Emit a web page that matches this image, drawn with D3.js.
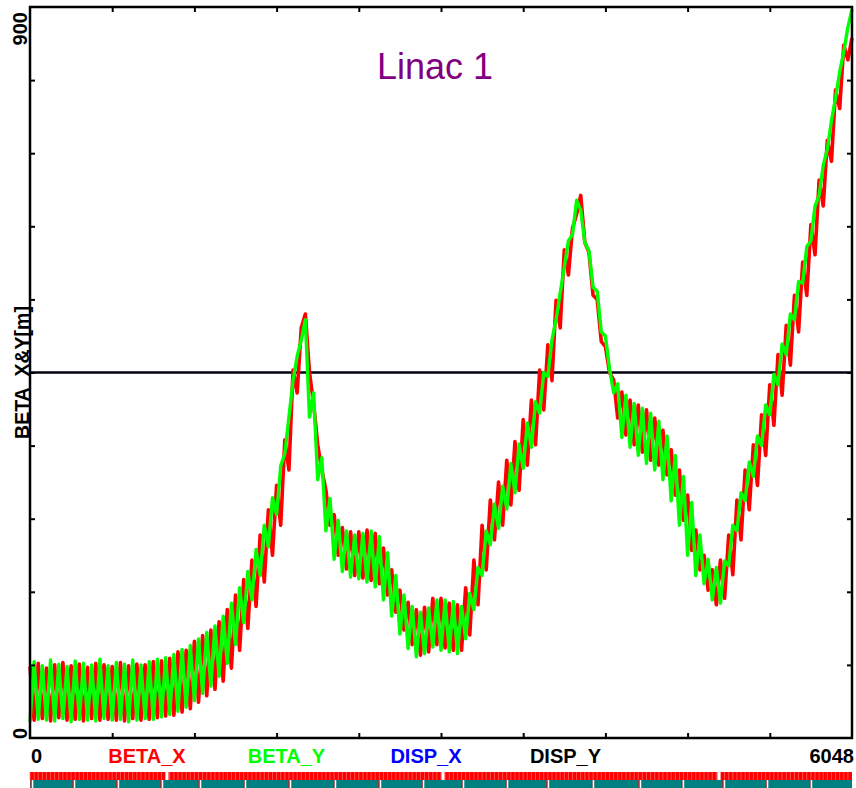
<!DOCTYPE html>
<html>
<head>
<meta charset="utf-8">
<script src="https://cdn.jsdelivr.net/npm/d3@7"></script>
<style>
  body { margin: 0; background: #fff; }
  text { font-family: "Liberation Sans", Arial, sans-serif; }
</style>
</head>
<body>
<svg id="chart" width="856" height="788"></svg>
<script>
// ring length [m] and beta range [m]
const sLength = 6048;
const betaTop = 900;
const refLevel = 450;
const cellCount = 100;

// beta_x at the F quad and at the D quad of every cell
const betaXF = [88,92,86,90,93,89,91,87,92,90,88,93,89,91,90,94,95,
  98,106,108,119,126,133,143,158,176,195,219,250,281,311,367,453,
  505,
  450,361,305,275,259,254,254,256,252,234,207,182,167,158,161,172,
  172,166,164,185,219,262,293,315,342,365,392,416,453,484,539,601,628,
  668,598,540,482,441,426,416,410,404,394,379,355,330,299,256,225,207,
  219,250,293,330,361,398,435,472,508,545,586,632,687,736,798,853];
const betaXD = [22,24,21,25,22,23,21,24,22,23,22,21,24,22,23,25,27,
  28,32,36,44,52,60,70,86,108,135,162,192,225,262,330,425,
  522,
  412,330,262,225,208,200,197,194,190,176,155,133,115,102,106,115,
  111,108,108,127,164,207,244,262,287,305,336,361,404,440,505,570,645,
  610,545,488,450,394,373,361,352,342,336,324,299,268,231,207,182,164,
  172,201,244,281,311,348,385,422,459,500,545,595,655,710,775,835];
const betaXEnd = 862;

// beta_y at the F quad and at the D quad of every cell
const betaYF = [20,23,22,21,24,20,23,22,21,24,22,23,20,22,24,23,26,
  29,33,38,46,55,64,76,92,115,142,170,200,235,275,350,440,
  490,
  395,318,255,220,205,198,196,192,186,170,150,128,110,100,104,112,
  108,106,104,122,158,200,238,258,282,302,332,358,400,445,515,580,620,
  650,600,550,495,425,370,358,348,338,330,318,292,262,225,200,190,170,
  166,212,255,292,322,360,398,435,472,515,560,612,668,725,788,845];
const betaYD = [94,89,96,91,88,95,92,90,97,89,93,91,96,90,94,97,99,
  103,109,114,122,130,138,150,166,185,205,232,262,296,335,395,470,
  515,
  425,345,295,268,255,250,252,255,248,228,200,176,162,155,160,170,
  170,168,162,178,210,255,288,310,338,362,388,414,450,490,548,612,662,
  610,555,500,455,436,422,412,406,400,390,372,348,322,290,250,220,210,
  218,262,302,340,372,410,448,485,522,562,605,655,705,760,820,875];
const betaYEnd = 897;

// lattice bar: gaps in the red bar and section marks in the teal bar [m]
const gapS = [1008, 3039, 5069];
const sectionS = [15, 324, 647, 971, 1251, 1582, 1913, 2244, 2575, 2892, 3186,
  3510, 3811, 4142, 4488, 4804, 5106, 5423, 5746];

const legendNames = ["BETA_X", "BETA_Y", "DISP_X", "DISP_Y"];
const legendColors = ["#ff0000", "#00ff00", "#0000ff", "#000000"];
const xEndLabels = ["0", "6048"];
const yEndLabels = ["0", "900"];
const title = "Linac 1";
const yTitle = "BETA\u00a0 X&Y[m]";

const svg = d3.select("#chart");

let x = d3.scaleLinear().domain([0, sLength]).range([30, 852]);
let y = d3.scaleLinear().domain([0, betaTop]).range([738, 7]);

let cellLen = sLength / cellCount;

function buildPoints(atF, atD, endVal) {
  let pts = [];
  for (let i = 0; i < cellCount; i++) {
    pts.push([i * cellLen, atF[i]]);
    pts.push([(i + 0.5) * cellLen, atD[i]]);
  }
  pts.push([sLength, endVal]);
  return pts;
}

let line = d3.line()
  .x(d => x(d[0]))
  .y(d => y(d[1]));

let plot = svg.append("g");

// reference level
plot.append("line")
  .attr("x1", x(0)).attr("x2", x(sLength))
  .attr("y1", y(refLevel)).attr("y2", y(refLevel))
  .attr("stroke", "#000010")
  .attr("stroke-width", 2.6);

plot.append("path")
  .datum(buildPoints(betaXF, betaXD, betaXEnd))
  .attr("d", line)
  .attr("fill", "none")
  .attr("stroke", "#ff0000")
  .attr("stroke-width", 3.6)
  .attr("stroke-linejoin", "round");

plot.append("path")
  .datum(buildPoints(betaYF, betaYD, betaYEnd))
  .attr("d", line)
  .attr("fill", "none")
  .attr("stroke", "#00ff00")
  .attr("stroke-width", 3.4)
  .attr("stroke-linejoin", "round");

// inward ticks on all four sides
let xTicks = d3.range(1, 10).map(k => k * sLength / 10);
let yTicks = d3.range(1, 10).map(k => k * betaTop / 10);

function styleAxis(g) {
  g.select(".domain").remove();
  g.selectAll(".tick line").attr("stroke", "#000").attr("stroke-width", 2);
}

svg.append("g").attr("transform", "translate(0,738)")
  .call(d3.axisBottom(x).tickValues(xTicks).tickSize(-5).tickFormat(""))
  .call(styleAxis);
svg.append("g").attr("transform", "translate(0,7)")
  .call(d3.axisTop(x).tickValues(xTicks).tickSize(-5).tickFormat(""))
  .call(styleAxis);
svg.append("g").attr("transform", "translate(30,0)")
  .call(d3.axisLeft(y).tickValues(yTicks).tickSize(-5).tickFormat(""))
  .call(styleAxis);
svg.append("g").attr("transform", "translate(852,0)")
  .call(d3.axisRight(y).tickValues(yTicks).tickSize(-5).tickFormat(""))
  .call(styleAxis);

svg.append("rect")
  .attr("x", x(0)).attr("y", y(betaTop))
  .attr("width", x(sLength) - x(0))
  .attr("height", y(0) - y(betaTop))
  .attr("fill", "none")
  .attr("stroke", "#000")
  .attr("stroke-width", 2.5);

// title
svg.append("text")
  .attr("x", 435).attr("y", 79)
  .attr("text-anchor", "middle")
  .attr("font-size", 36)
  .attr("fill", "#800080")
  .text(title);

// y labels, rotated
svg.append("text")
  .attr("transform", "translate(27," + (y(0) + 1) + ") rotate(-90)")
  .attr("text-anchor", "start")
  .attr("font-size", 20).attr("font-weight", "bold")
  .text(yEndLabels[0]);
svg.append("text")
  .attr("transform", "translate(27," + (y(betaTop) + 5) + ") rotate(-90)")
  .attr("text-anchor", "end")
  .attr("font-size", 20).attr("font-weight", "bold")
  .text(yEndLabels[1]);
svg.append("text")
  .attr("transform", "translate(29," + y(refLevel) + ") rotate(-90)")
  .attr("text-anchor", "middle")
  .attr("font-size", 19.5).attr("font-weight", "bold")
  .text(yTitle);

// bottom labels
svg.append("text")
  .attr("x", x(0) + 1).attr("y", 763)
  .attr("font-size", 20).attr("font-weight", "bold")
  .text(xEndLabels[0]);
svg.append("text")
  .attr("x", x(sLength) + 2).attr("y", 763)
  .attr("text-anchor", "end")
  .attr("font-size", 20).attr("font-weight", "bold")
  .text(xEndLabels[1]);

svg.selectAll(".legend")
  .data(legendNames)
  .enter().append("text")
  .attr("class", "legend")
  .attr("x", (d, i) => 147 + 139.5 * i)
  .attr("y", 763)
  .attr("text-anchor", "middle")
  .attr("font-size", 20).attr("font-weight", "bold")
  .attr("fill", (d, i) => legendColors[i])
  .text(d => d);

// lattice bar
let bar = svg.append("g");
bar.append("rect")
  .attr("x", x(0)).attr("y", 772)
  .attr("width", x(sLength) - x(0)).attr("height", 8)
  .attr("fill", "#ff0000");
bar.selectAll(".elem")
  .data(d3.range(0, cellCount * 2))
  .enter().append("line")
  .attr("x1", d => x(d * cellLen / 2)).attr("x2", d => x(d * cellLen / 2))
  .attr("y1", 772).attr("y2", 780)
  .attr("stroke", "#ff7070")
  .attr("stroke-width", 0.7);
bar.selectAll(".gap")
  .data(gapS)
  .enter().append("rect")
  .attr("x", d => x(d) - 1.5).attr("y", 771)
  .attr("width", 3).attr("height", 9.5)
  .attr("fill", "#fff");

bar.append("rect")
  .attr("x", x(0)).attr("y", 780)
  .attr("width", x(sLength) - x(0)).attr("height", 8)
  .attr("fill", "#008080");
bar.selectAll(".secRed")
  .data(sectionS)
  .enter().append("line")
  .attr("x1", d => x(d) - 1).attr("x2", d => x(d) - 1)
  .attr("y1", 780).attr("y2", 788)
  .attr("stroke", "#ff0000")
  .attr("stroke-width", 1);
bar.selectAll(".secWhite")
  .data(sectionS)
  .enter().append("line")
  .attr("x1", d => x(d) + 0.5).attr("x2", d => x(d) + 0.5)
  .attr("y1", 780).attr("y2", 788)
  .attr("stroke", "#ffffff")
  .attr("stroke-width", 1.5);
</script>
</body>
</html>
